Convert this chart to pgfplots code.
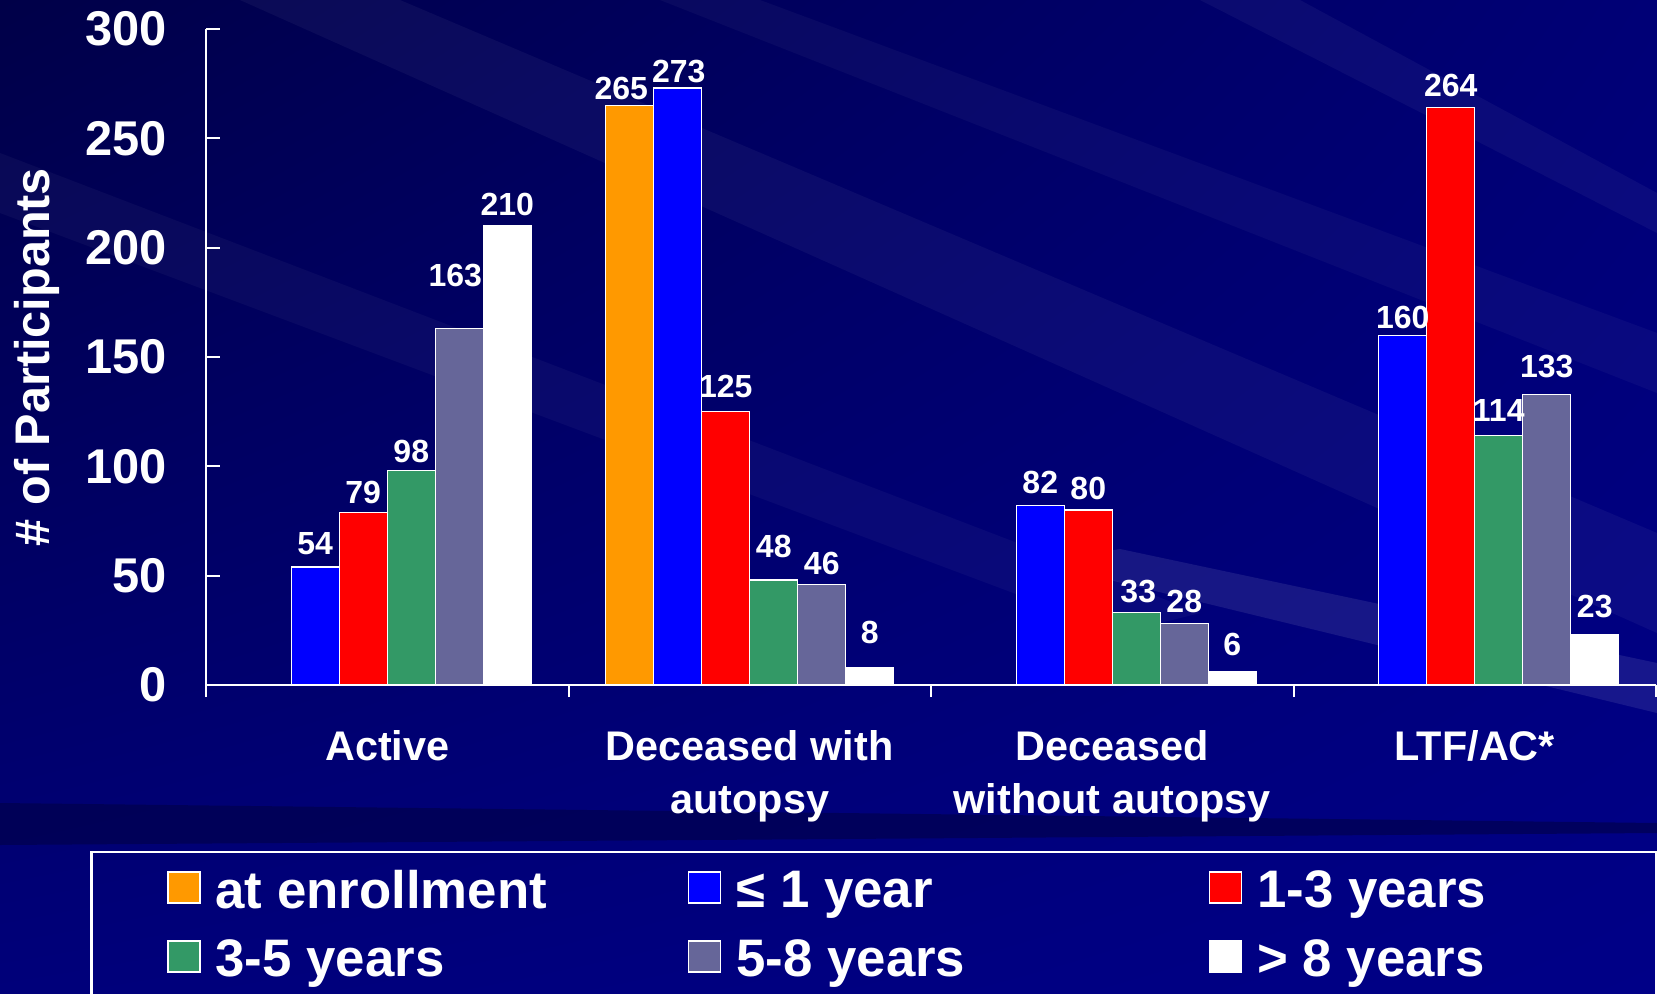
\documentclass[border=0pt]{standalone}
\usepackage{pgfplots}
\pgfplotsset{compat=1.18}
\usetikzlibrary{shadings}
\usepackage{fontspec}
\setmainfont{Liberation Sans}

\definecolor{bgA}{RGB}{0,0,72}
\definecolor{bgB}{RGB}{0,0,118}
\definecolor{bgC}{RGB}{0,0,122}
\definecolor{bgD}{RGB}{0,0,135}
\definecolor{bgdark}{RGB}{0,0,70}
\definecolor{corange}{RGB}{255,153,0}
\definecolor{cblue}{RGB}{0,0,255}
\definecolor{cred}{RGB}{255,0,0}
\definecolor{cgreen}{RGB}{51,153,102}
\definecolor{cgray}{RGB}{102,102,153}

\pgfplotstableread{
x y dy dx
1 265 2.4 -4.2
}\enrol
\pgfplotstableread{
x y dy dx
0 54 5.6 0
1 273 2.4 0.5
2 82 5.6 0
3 160 3 0
}\leone
\pgfplotstableread{
x y dy dx
0 79 4 0
1 125 6.6 0
2 80 5 0
3 264 5 0
}\onethree
\pgfplotstableread{
x y dy dx
0 98 3.5 0
1 48 10.9 0
2 33 4.5 1
3 114 6.6 0
}\threefive
\pgfplotstableread{
x y dy dx
0 163 20.4 -2
1 46 4.5 0
2 28 5 0
3 133 7.7 0
}\fiveeight
\pgfplotstableread{
x y dy dx
0 210 4.5 0
1 8 11.4 0
2 6 7.7 0
3 23 8.2 0
}\gteight

\begin{document}
\begin{tikzpicture}[x=1pt,y=1pt]
\useasboundingbox (0,0) rectangle (828.5,496.5);
\begin{scope}
\clip (0,0) rectangle (828.5,496.5);
\shade[upper left=bgA, upper right=bgB, lower left=bgC, lower right=bgD] (0,0) rectangle (828.5,496.5);
% decorative streaks
\fill[white, opacity=0.045] (120,496.5) -- (200,496.5) -- (828.5,230) -- (828.5,180) -- cycle;
\fill[white, opacity=0.035] (330,496.5) -- (380,496.5) -- (828.5,330) -- (828.5,300) -- cycle;
\fill[white, opacity=0.045] (600,496.5) -- (650,496.5) -- (828.5,400) -- (828.5,380) -- cycle;
\fill[white, opacity=0.035] (0,420) -- (0,390) -- (560,180) -- (600,190) -- cycle;
\fill[white, opacity=0.09] (520,215) -- (560,222) -- (828.5,165) -- (828.5,140) -- cycle;
\fill[bgdark, opacity=0.6] (0,95) -- (420,90) -- (828.5,85) -- (828.5,80) -- (420,77) -- (0,74) -- cycle;
\end{scope}

\begin{axis}[
  at={(103pt,154pt)}, anchor=south west,
  scale only axis, width=725pt, height=328pt,
  xmin=-0.5, xmax=3.5, ymin=0, ymax=300,
  clip=false,
  ybar=0pt, bar width=24pt,
  axis x line*=bottom, axis y line*=left,
  axis line style={white, line width=1pt},
  xtick={0,1,2,3},
  xticklabels={Active, {Deceased with\\autopsy}, {Deceased\\without autopsy}, LTF/AC*},
  major x tick style={draw=none},
  minor xtick={-0.5,0.5,1.5,2.5,3.5},
  minor x tick style={white, line width=1pt},
  minor tick length=6pt,
  xtick align=outside,
  ytick={0,50,...,300},
  ytick align=inside,
  major tick length=7pt,
  major y tick style={white, line width=1pt},
  /pgf/number format/assume math mode=true,
  x tick label style={align=center, text=white, font=\bfseries\fontsize{20.7}{26.5}\selectfont, yshift=-12pt},
  y tick label style={text=white, font=\bfseries\fontsize{24.4}{28}\selectfont, inner sep=0pt, xshift=-19.5pt},
  every axis y label/.style={at={(axis description cs:-0.1166,0.5)}, rotate=90, anchor=center},
  ylabel={\# of Participants},
  ylabel style={text=white, font=\bfseries\fontsize{24.3}{28}\selectfont},
  visualization depends on={\thisrow{dy} \as \labdy},
  visualization depends on={\thisrow{dx} \as \labdx},
  nodes near coords,
  every node near coord/.append style={text=white, font=\bfseries\fontsize{16}{18}\selectfont, anchor=south, inner sep=0pt, yshift=\labdy pt, xshift=\labdx pt},
  legend image code/.code={\draw[#1, draw=white, line width=0.6pt] (0pt,-6pt) rectangle (16pt,9.5pt);},
  legend style={at={(axis description cs:-0.0269,-0.282)}, anchor=north west, draw=none, fill=none,
    text=white, font=\bfseries\fontsize{26.4}{30}\selectfont, legend columns=3,
    inner sep=0pt, row sep=14.2pt,
    nodes={inner sep=0pt},
    /tikz/every odd column/.append style={column sep=7.5pt}},
  legend cell align=left,
]
\addplot[fill=corange, draw=white, line width=0.6pt] table[x=x,y=y] {\enrol};
\addplot[fill=cblue, draw=white, line width=0.6pt] table[x=x,y=y] {\leone};
\addplot[fill=cred, draw=white, line width=0.6pt] table[x=x,y=y] {\onethree};
\addplot[fill=cgreen, draw=white, line width=0.6pt] table[x=x,y=y] {\threefive};
\addplot[fill=cgray, draw=white, line width=0.6pt] table[x=x,y=y] {\fiveeight};
\addplot[fill=white, draw=white, line width=0.6pt] table[x=x,y=y] {\gteight};
\legend{\makebox[236.3pt][l]{at enrollment}, \makebox[236.3pt][l]{≤ 1 year}, \makebox[236.3pt][l]{1-3 years},
        \makebox[236.3pt][l]{3-5 years}, \makebox[236.3pt][l]{5-8 years}, \makebox[236.3pt][l]{> 8 years}}
\end{axis}
\draw[white, line width=1.2pt] (45.75,-10) rectangle (827.9,70.5);
\end{tikzpicture}
\end{document}
